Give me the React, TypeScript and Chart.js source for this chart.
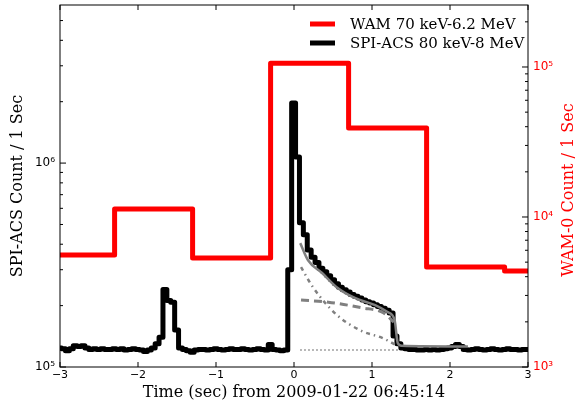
import React, { useEffect, useRef } from "react";
import { Chart, registerables } from "chart.js";

Chart.register(...registerables);

// ---- SPI-ACS light curve: 50 ms bins ----
const spiBinStart = -3.03;
const spiBinWidth = 0.05;
const spiCounts = [
  124000, 123000, 120000, 123000, 127000, 126000, 127000, 124000, 122000, 123000,
  122000, 123000, 122000, 122000, 123000, 122000, 123000, 121000, 122000, 123000,
  122000, 121000, 119000, 121000, 124000, 130000, 140000, 240000, 212000, 208000,
  152000, 124000, 122000, 120000, 118000, 121000, 122000, 122000, 121000, 122000,
  123000, 122000, 121000, 122000, 123000, 122000, 122000, 123000, 122000, 121000,
  122000, 123000, 122000, 121000, 129000, 122000, 121000, 120000, 121000, 300000,
  1970000, 1070000, 510000, 445000, 375000, 345000, 325000, 305000, 293000, 280000,
  268000, 256000, 246000, 239000, 233000, 227000, 222000, 218000, 213000, 209000,
  206000, 202000, 198000, 194000, 190000, 184000, 142000, 130000, 124000, 123000,
  122000, 122000, 121000, 121000, 122000, 121000, 122000, 121000, 122000, 123000,
  124000, 126000, 129000, 126000, 122000, 121000, 122000, 123000, 122000, 121000,
  122000, 123000, 122000, 121000, 122000, 123000, 122000, 122000, 121000, 122000,
  122000,
];

// ---- WAM light curve: 1 s bins ----
const wamBinEdges = [-3.3, -2.3, -1.3, -0.3, 0.7, 1.7, 2.7, 3.7];
const wamCounts = [5580, 11300, 5330, 106000, 39200, 4640, 4365];

// ---- fit components (grey) ----
const fitTotalTime = [0.08, 0.18, 0.36, 0.56, 0.78, 1.04, 1.2, 1.29, 1.33, 1.38, 2.23];
const fitTotalCounts = [405000, 334000, 289000, 244000, 218000, 201000, 186000, 170000, 131000, 127000, 126000];
const fitPulseTime = [0.09, 0.44, 0.87, 1.15, 1.28];
const fitPulseCounts = [213000, 208000, 195000, 184000, 166000];
const fitDecayTime = [0.09, 0.24, 0.55, 0.87, 1.13, 1.31];
const fitDecayCounts = [309000, 247000, 180000, 150000, 139000, 128000];
const fitBgTime = [0.08, 1.36];
const fitBgCounts = [121000, 121000];

// ---- ticks ----
const xTicks = [-3, -2, -1, 0, 1, 2, 3];
const leftMajor = [1e5, 1e6];
const leftMinor = [2e5, 3e5, 4e5, 5e5, 6e5, 7e5, 8e5, 9e5, 2e6, 3e6, 4e6, 5e6];
const rightMajor = [1e3, 1e4, 1e5];
const rightMinor = [2e3, 3e3, 4e3, 5e3, 6e3, 7e3, 8e3, 9e3, 2e4, 3e4, 4e4, 5e4, 6e4, 7e4, 8e4, 9e4, 2e5];

const legendLabels = ["WAM 70 keV-6.2 MeV", "SPI-ACS 80 keV-8 MeV"];
const xTitle = "Time (sec) from 2009-01-22 06:45:14";
const yTitle = "SPI-ACS Count / 1 Sec";
const y1Title = "WAM-0 Count / 1 Sec";

const RED = "#ff0000";
const GREY = "#808080";
const SERIF = '"DejaVu Serif", serif';
const SANS = '"DejaVu Sans", sans-serif';

const SUP: Record<string, string> = { "0": "\u2070", "1": "\u00b9", "2": "\u00b2", "3": "\u00b3", "4": "\u2074", "5": "\u2075", "6": "\u2076", "7": "\u2077", "8": "\u2078", "9": "\u2079" };
const powLabel = (v: number) =>
  "10" + String(Math.round(Math.log10(v))).split("").map((c) => SUP[c] || c).join("");

const decorPlugin = {
  id: "decor",
  afterDraw(chart: any) {
    const { ctx, chartArea: a, scales } = chart;
    ctx.save();
    // frame
    ctx.strokeStyle = "#000";
    ctx.lineWidth = 1;
    ctx.strokeRect(a.left, a.top, a.right - a.left, a.bottom - a.top);
    // ticks
    ctx.beginPath();
    xTicks.forEach((v) => {
      const px = scales.x.getPixelForValue(v);
      ctx.moveTo(px, a.bottom);
      ctx.lineTo(px, a.bottom - 5);
      ctx.moveTo(px, a.top);
      ctx.lineTo(px, a.top + 5);
    });
    const yTick = (scale: any, vals: number[], len: number, side: "l" | "r") => {
      vals.forEach((v) => {
        const py = scale.getPixelForValue(v);
        if (side === "l") {
          ctx.moveTo(a.left, py);
          ctx.lineTo(a.left + len, py);
        } else {
          ctx.moveTo(a.right, py);
          ctx.lineTo(a.right - len, py);
        }
      });
    };
    yTick(scales.y, leftMajor, 6, "l");
    yTick(scales.y, leftMinor, 3, "l");
    yTick(scales.y1, rightMajor, 6, "r");
    yTick(scales.y1, rightMinor, 3, "r");
    ctx.stroke();

    // axis titles
    ctx.fillStyle = "#000";
    ctx.font = `16px ${SERIF}`;
    ctx.textAlign = "center";
    ctx.textBaseline = "alphabetic";
    ctx.fillText(xTitle, (a.left + a.right) / 2, 397);

    ctx.save();
    ctx.translate(22, (a.top + a.bottom) / 2);
    ctx.rotate(-Math.PI / 2);
    ctx.fillText(yTitle, 0, 0);
    ctx.restore();

    ctx.save();
    ctx.fillStyle = RED;
    ctx.translate(573, 190);
    ctx.rotate(-Math.PI / 2);
    ctx.fillText(y1Title, 0, 0);
    ctx.restore();

    // legend
    const colors = [RED, "#000"];
    ctx.font = `15px ${SERIF}`;
    ctx.textAlign = "left";
    ctx.textBaseline = "middle";
    legendLabels.forEach((lab, i) => {
      const y = 24 + i * 19;
      ctx.strokeStyle = colors[i];
      ctx.lineWidth = 5;
      ctx.beginPath();
      ctx.moveTo(a.right - 218, y);
      ctx.lineTo(a.right - 193, y);
      ctx.stroke();
      ctx.fillStyle = "#000";
      ctx.fillText(lab, a.right - 178, y + 1);
    });
    ctx.restore();
  },
};

const zeroPad = (s: any) => {
  s.paddingTop = 0;
  s.paddingBottom = 0;
  s.paddingLeft = 0;
  s.paddingRight = 0;
};

export default function App() {
  const ref = useRef<HTMLCanvasElement | null>(null);

  useEffect(() => {
    document.body.style.margin = "0";
    const canvas = ref.current;
    if (!canvas) return;

    const spiPoints = spiCounts.map((v, i) => ({ x: spiBinStart + i * spiBinWidth, y: v }));
    spiPoints.push({ x: spiBinStart + spiCounts.length * spiBinWidth, y: spiCounts[spiCounts.length - 1] });
    const wamPoints = wamCounts.map((v, i) => ({ x: wamBinEdges[i], y: v }));
    wamPoints.push({ x: wamBinEdges[wamBinEdges.length - 1], y: wamCounts[wamCounts.length - 1] });
    const zip = (t: number[], c: number[]) => t.map((x, i) => ({ x, y: c[i] }));

    const tickFont = { family: SANS, size: 11 };
    const yTickFont = { family: SANS, size: 12 };

    const chart = new Chart(canvas, {
      type: "line",
      data: {
        datasets: [
          {
            label: "fit total",
            data: zip(fitTotalTime, fitTotalCounts),
            yAxisID: "y",
            borderColor: GREY,
            borderWidth: 2.5,
            cubicInterpolationMode: "monotone",
            order: 0,
          },
          {
            label: "fit pulse",
            data: zip(fitPulseTime, fitPulseCounts),
            yAxisID: "y",
            borderColor: GREY,
            borderWidth: 3,
            borderDash: [8, 5],
            cubicInterpolationMode: "monotone",
            order: 1,
          },
          {
            label: "fit decay",
            data: zip(fitDecayTime, fitDecayCounts),
            yAxisID: "y",
            borderColor: GREY,
            borderWidth: 2.5,
            borderDash: [4, 4, 1.5, 4],
            cubicInterpolationMode: "monotone",
            order: 2,
          },
          {
            label: "fit background",
            data: zip(fitBgTime, fitBgCounts),
            yAxisID: "y",
            borderColor: GREY,
            borderWidth: 1.5,
            borderDash: [1.5, 2.5],
            order: 3,
          },
          {
            label: legendLabels[1],
            data: spiPoints,
            yAxisID: "y",
            borderColor: "#000",
            borderWidth: 5,
            stepped: "before",
            borderJoinStyle: "round",
            order: 4,
            clip: 0,
          },
          {
            label: legendLabels[0],
            data: wamPoints,
            yAxisID: "y1",
            borderColor: RED,
            borderWidth: 5,
            stepped: "before",
            borderJoinStyle: "round",
            order: 5,
            clip: 0,
          },
        ] as any,
      },
      options: {
        responsive: false,
        animation: false,
        devicePixelRatio: 1,
        layout: { padding: { top: 5, left: 0, right: 0, bottom: 0 } },
        elements: { point: { radius: 0 }, line: { tension: 0 } },
        plugins: { legend: { display: false }, tooltip: { enabled: false } },
        scales: {
          x: {
            type: "linear",
            position: "bottom",
            min: -3,
            max: 3,
            afterBuildTicks: (s: any) => {
              s.ticks = xTicks.map((v) => ({ value: v }));
            },
            afterFit: (s: any) => {
              s.height = 37;
              zeroPad(s);
            },
            grid: { display: false, drawTicks: false },
            border: { display: false },
            ticks: {
              autoSkip: false,
              maxRotation: 0,
              padding: 2,
              color: "#000",
              font: tickFont,
              callback: (v: any) => (Number(v) < 0 ? "\u2212" + Math.abs(Number(v)) : String(v)),
            },
          },
          y: {
            type: "logarithmic",
            position: "left",
            min: 1e5,
            max: 5.96e6,
            afterBuildTicks: (s: any) => {
              s.ticks = leftMajor.map((v) => ({ value: v }));
            },
            afterFit: (s: any) => {
              s.width = 60;
              zeroPad(s);
            },
            grid: { display: false, drawTicks: false },
            border: { display: false },
            ticks: {
              autoSkip: false,
              padding: 5,
              color: "#000",
              font: yTickFont,
              callback: (v: any) => powLabel(Number(v)),
            },
          },
          y1: {
            type: "logarithmic",
            position: "right",
            min: 1e3,
            max: 2.59e5,
            afterBuildTicks: (s: any) => {
              s.ticks = rightMajor.map((v) => ({ value: v }));
            },
            afterFit: (s: any) => {
              s.width = 49;
              zeroPad(s);
            },
            grid: { display: false, drawTicks: false },
            border: { display: false },
            ticks: {
              autoSkip: false,
              padding: 5,
              color: RED,
              font: yTickFont,
              callback: (v: any) => powLabel(Number(v)),
            },
          },
        },
      } as any,
      plugins: [decorPlugin],
    });

    return () => chart.destroy();
  }, []);

  return (
    <div style={{ width: 577, height: 404 }}>
      <canvas ref={ref} width={577} height={404} style={{ display: "block" }} />
    </div>
  );
}
